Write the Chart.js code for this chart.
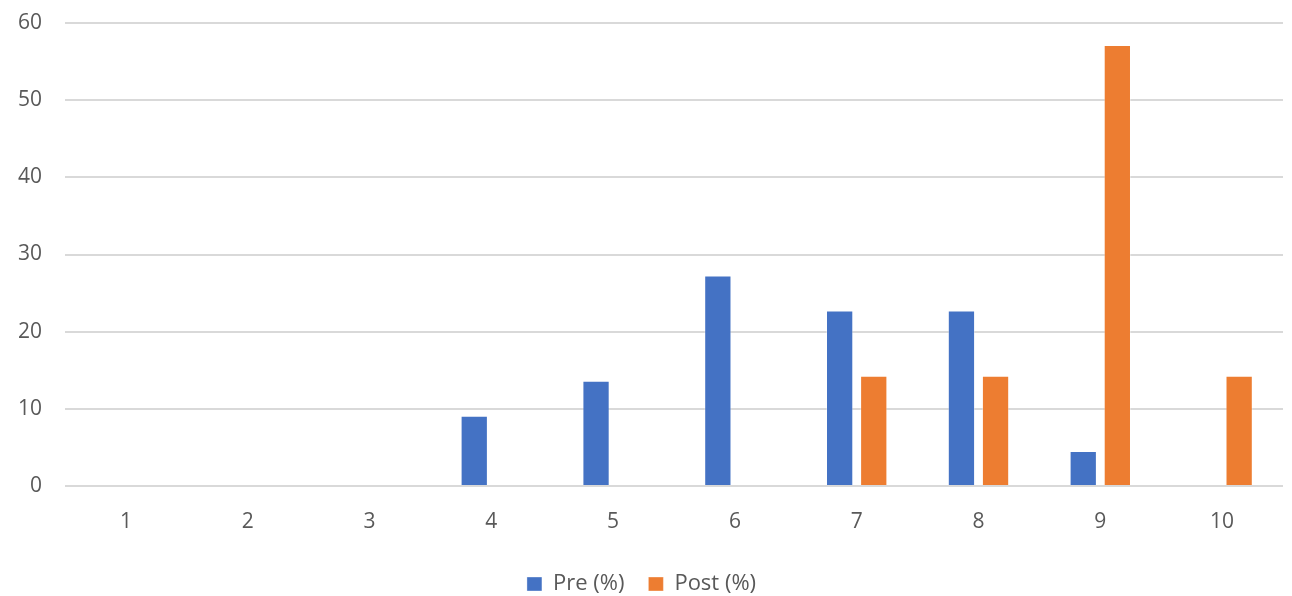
<!DOCTYPE html>
<html>
<head>
<meta charset="utf-8">
<script src="https://cdn.jsdelivr.net/npm/chart.js@4/dist/chart.umd.min.js"></script>
<style>
  html, body { margin: 0; padding: 0; background: #ffffff; }
  #wrap { width: 1292px; height: 596px; position: relative; }
</style>
</head>
<body>
<div id="wrap"><canvas id="chart" width="1292" height="596"></canvas></div>
<script>
// Score categories 1–10
const categories = ['1', '2', '3', '4', '5', '6', '7', '8', '9', '10'];
// Share of respondents per score, before and after
const preValues  = [0, 0, 0, 9.09, 13.64, 27.27, 22.73, 22.73, 4.55, 0];
const postValues = [0, 0, 0, 0, 0, 0, 14.29, 14.29, 57.14, 14.29];
const seriesNames = ['Pre (%)', 'Post (%)'];
const yTicks = [0, 10, 20, 30, 40, 50, 60];

const FONT = '"Open Sans", Lato, sans-serif';
const TEXT = '#595959';

new Chart(document.getElementById('chart'), {
  type: 'bar',
  data: {
    labels: categories,
    datasets: [
      {
        label: seriesNames[0],
        data: preValues,
        backgroundColor: '#4472C4',
        borderColor: 'rgba(255,255,255,0.35)',
        borderWidth: 1,
        categoryPercentage: 0.56,
        barPercentage: 0.8
      },
      {
        label: seriesNames[1],
        data: postValues,
        backgroundColor: '#ED7D31',
        borderColor: 'rgba(255,255,255,0.35)',
        borderWidth: 1,
        categoryPercentage: 0.56,
        barPercentage: 0.8
      }
    ]
  },
  options: {
    responsive: false,
    animation: false,
    layout: { padding: { left: 0, right: 9, top: 23, bottom: -9 } },
    scales: {
      x: {
        grid: { display: false, drawTicks: false },
        border: { display: false },
        ticks: { color: TEXT, font: { family: FONT, size: 21 }, padding: 23 },
        afterFit(scale) { scale.height = 63; }
      },
      y: {
        min: yTicks[0],
        max: yTicks[yTicks.length - 1],
        afterBuildTicks(scale) { scale.ticks = yTicks.map(v => ({ value: v })); },
        // invisible tick marks provide the gap between labels and plot
        grid: { color: '#D9D9D9', lineWidth: 2, drawTicks: true, tickLength: 23, tickColor: 'rgba(0,0,0,0)' },
        border: { display: false },
        ticks: { color: TEXT, font: { family: FONT, size: 21 }, padding: 0 },
        afterFit(scale) { scale.width = 65; }
      }
    },
    plugins: {
      tooltip: { enabled: false },
      legend: {
        position: 'bottom',
        labels: {
          color: TEXT,
          font: { family: FONT, size: 22 },
          boxWidth: 15,
          boxHeight: 14,
          padding: 24
        }
      }
    }
  }
});
</script>
</body>
</html>
